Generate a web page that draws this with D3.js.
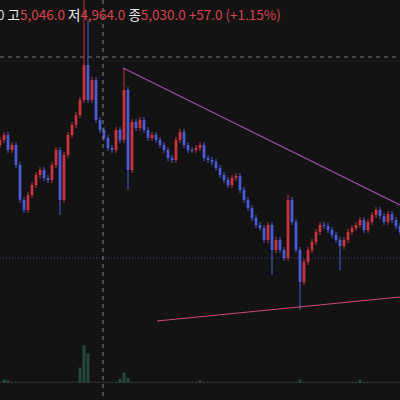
<!DOCTYPE html><html><head><meta charset="utf-8"><script src="https://cdn.jsdelivr.net/npm/d3@7"></script>
<style>body{margin:0;background:#131313}svg{display:block}</style></head><body><svg id="c" width="400" height="400"></svg>
<script>
const closes=[140,135,150,145,165,200,210,195,185,175,170,178,180,165,150,200,155,135,125,115,100,65,100,80,120,130,138,148,150,130,140,90,170,122,128,120,130,138,135,140,145,150,158,160,140,132,145,150,150,148,145,158,160,162,168,175,180,185,178,176,190,200,208,218,225,228,240,225,250,240,250,258,200,222,250,282,262,250,242,232,225,226,230,235,240,246,240,232,228,225,220,230,222,215,210,216,222,214,220,226,232];
const spikes={15:215,21:0,22:20,31:68,32:190,68:275,72:195,75:310,85:270};
const volIdx=[1,2,20,21,22,30,31,32,50,75,90];
const volVal=[4,3,18,44,34,5,12,6,3,4,4];
const header=[["0 ","#ddd"],["고","#eee"],["5,046.0 ","#d9434f"],["저","#eee"],["4,964.0 ","#d9434f"],["종","#eee"],["5,030.0 ","#d9434f"],["+57.0 (+1.15%)","#d9434f"]];
const svg=d3.select("#c");
const x=d3.scaleLinear().domain([0,closes.length-1]).range([0,400]);
const y=d3.scaleLinear().domain([0,400]).range([0,400]);
const c=closes.map((v,i)=>{const o=i?closes[i-1]:v+5;let hi=Math.min(o,v)-3,lo=Math.max(o,v)+3;if(spikes[i]!==undefined){if(spikes[i]<hi)hi=spikes[i];else lo=spikes[i];}return{i,o,v,hi,lo};});
svg.append("line").attr("x1",0).attr("x2",400).attr("y1",57).attr("y2",57).attr("stroke","#777").attr("stroke-dasharray","4,4");
svg.append("line").attr("x1",0).attr("x2",400).attr("y1",258).attr("y2",258).attr("stroke","#3b45a8").attr("stroke-dasharray","1,2");
const vy=d3.scaleLinear().domain([0,50]).range([383,340]);
svg.selectAll(".vb").data(closes).join("rect").attr("x",(d,i)=>x(i)-1.5).attr("width",3).attr("y",vy(1.5)).attr("height",383-vy(1.5)).attr("fill",(d,i)=>i%3?"#2b3a33":"#4a2a2a");
svg.selectAll(".vs").data(volIdx).join("rect").attr("x",d=>x(d)-1.5).attr("width",3).attr("y",(d,k)=>vy(volVal[k])).attr("height",(d,k)=>383-vy(volVal[k])).attr("fill","#24483a");
const g=svg.selectAll(".k").data(c).join("g");
const col=d=>d.v<d.o?"#c8333f":"#4a5bd4";
g.append("line").attr("x1",d=>x(d.i)).attr("x2",d=>x(d.i)).attr("y1",d=>y(d.hi)).attr("y2",d=>y(d.lo)).attr("stroke",col).attr("stroke-width",1);
g.append("rect").attr("x",d=>x(d.i)-1.4).attr("width",2.8).attr("y",d=>y(Math.min(d.o,d.v))).attr("height",d=>Math.max(1,Math.abs(d.o-d.v))).attr("fill",col);
svg.append("line").attr("x1",123).attr("y1",68).attr("x2",400).attr("y2",205).attr("stroke","#9b4fa8").attr("stroke-width",1.2);
svg.append("line").attr("x1",157).attr("y1",321).attr("x2",400).attr("y2",297).attr("stroke","#d04a70").attr("stroke-width",1.2);
svg.append("line").attr("x1",103).attr("x2",103).attr("y1",0).attr("y2",400).attr("stroke","#888").attr("stroke-dasharray","4,4");
const t=svg.append("text").attr("x",-3).attr("y",20).attr("font-family","Noto Sans CJK KR, sans-serif").attr("font-size",13.5);
header.forEach(h=>t.append("tspan").attr("fill",h[1]).text(h[0]));
</script></body></html>
